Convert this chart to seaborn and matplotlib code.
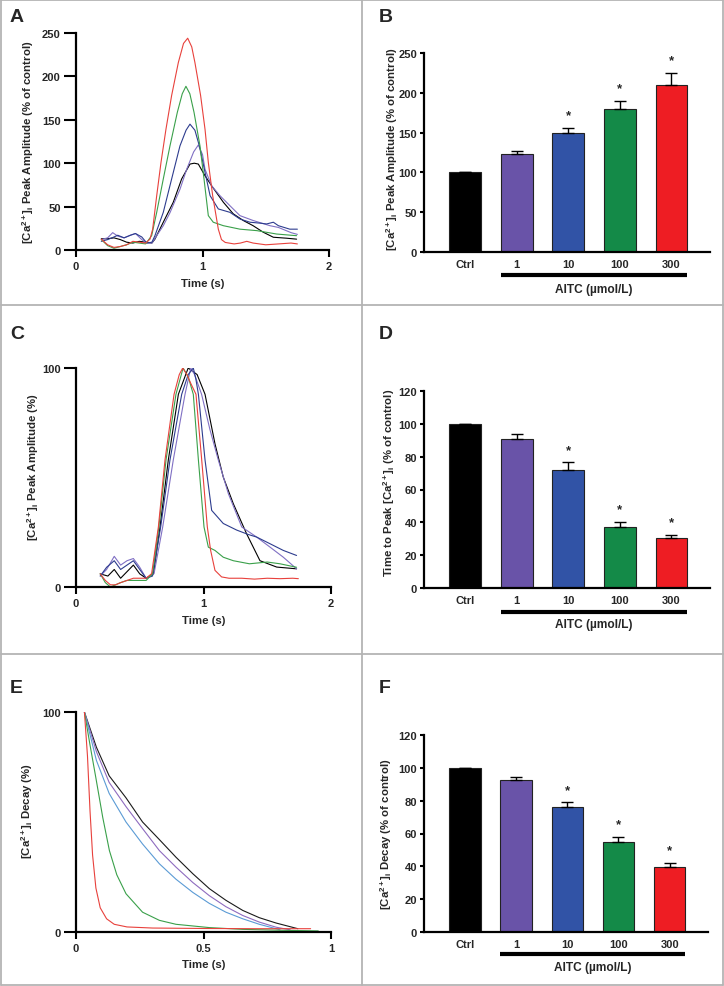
import matplotlib
matplotlib.use("Agg")
import matplotlib.pyplot as plt
import matplotlib.transforms as mtransforms
from matplotlib.lines import Line2D
import seaborn as sns
import pandas as pd

# ---------------- data ----------------
groups = ["Ctrl", "1", "10", "100", "300"]

# Panel A: raw transients (% of control)
a_ctrl_t = [0.20,0.25,0.30,0.35,0.40,0.45,0.50,0.55,0.60,0.624,0.69,0.769,0.835,0.901,0.935,0.967,1.02,1.072,1.165,1.243,1.322,1.40,1.48,1.56,1.664,1.744]
a_ctrl_v = [13,13,14,12,9,8,10,9,8,12.5,32,55,81.8,99,100,99,85.5,74,55,41.7,34,28,20.5,14.7,13.6,12.5]
a_1_t = [0.20,0.25,0.29,0.33,0.38,0.43,0.47,0.52,0.56,0.60,0.638,0.69,0.743,0.822,0.875,0.93,0.967,1.0,1.02,1.072,1.138,1.217,1.296,1.40,1.533,1.60,1.70,1.75]
a_1_v = [12,14,20,16,14,17,19,12,8,8,16.5,28,43,70,93,113,121,110,93,74,62.6,51,39.6,34,28,26,20,18]
a_10_t = [0.20,0.25,0.30,0.33,0.38,0.43,0.47,0.52,0.56,0.60,0.624,0.69,0.756,0.822,0.87,0.901,0.94,0.975,1.02,1.06,1.125,1.217,1.296,1.375,1.45,1.507,1.56,1.60,1.69,1.75]
a_10_v = [10,12,15,17,14,17,19,15,8,9,16.5,43.4,81.8,120,138,145,138,120,89.5,62.6,47.3,43.4,35.7,32,31,30,32,28,24,24]
a_100_t = [0.20,0.25,0.30,0.35,0.40,0.45,0.50,0.55,0.598,0.638,0.69,0.743,0.801,0.84,0.869,0.90,0.933,0.98,1.012,1.046,1.085,1.165,1.296,1.43,1.586,1.70,1.744]
a_100_v = [12,5,2,4,6,9,8,7,16.5,43.4,81.8,120,158.6,180,188.6,180,158.6,120,81.8,39.6,32,28,24,22.3,18.4,17,16.5]
a_300_t = [0.20,0.25,0.30,0.35,0.40,0.45,0.50,0.55,0.585,0.606,0.638,0.672,0.711,0.756,0.809,0.850,0.883,0.915,0.94,0.985,1.02,1.046,1.08,1.125,1.15,1.18,1.25,1.30,1.35,1.40,1.50,1.60,1.70,1.75]
a_300_v = [12.5,6,3,4,6,10,9,8,12.5,24,62.6,101,139,178,216,238,244,234,216,178,139,101,63,24,12,8.7,7,8,10,8,6,7,8,7]

# Panel C: normalised transients (%)
c_ctrl_t = [0.19,0.25,0.30,0.35,0.40,0.45,0.50,0.55,0.607,0.659,0.724,0.803,0.88,0.95,1.012,1.09,1.155,1.234,1.338,1.443,1.574,1.73]
c_ctrl_v = [6,5,8,4,7,10,6,4,6,27.4,58,88,100,97,88,65.4,50.2,38,24.3,12,9.1,8.3]
c_1_t = [0.19,0.24,0.30,0.35,0.40,0.45,0.50,0.55,0.612,0.68,0.763,0.855,0.90,0.93,0.985,1.05,1.116,1.195,1.30,1.417,1.522,1.626,1.73]
c_1_v = [5,8,14,10,12,13,9,4,6.1,27.4,58,88,100,97,88,72,58,42.6,27.4,22.8,18.2,13.6,8.3]
c_10_t = [0.19,0.24,0.30,0.35,0.40,0.45,0.50,0.55,0.60,0.664,0.737,0.829,0.88,0.92,0.94,0.96,1.012,1.064,1.155,1.26,1.35,1.417,1.52,1.626,1.73]
c_10_v = [5,9,12,8,10,12,8,4,5,27.4,58,88,97,100,95,88,58,35,29,26,24,22.8,19.8,16.7,14.4]
c_100_t = [0.19,0.23,0.27,0.31,0.35,0.40,0.45,0.50,0.55,0.60,0.65,0.706,0.784,0.84,0.88,0.92,0.96,1.004,1.038,1.09,1.155,1.234,1.36,1.50,1.60,1.73]
c_100_v = [6,2,0,1,2,3,3,3,3,6,27.4,58,88,100,96,88,58,27.4,18.2,16.7,13.6,12,10.6,11.4,10.6,9]
c_300_t = [0.19,0.23,0.27,0.31,0.35,0.40,0.45,0.50,0.55,0.593,0.646,0.698,0.769,0.81,0.837,0.87,0.90,0.941,0.986,1.03,1.056,1.09,1.142,1.20,1.30,1.40,1.50,1.60,1.70,1.744]
c_300_v = [6,3,1,1,2,3,4,4,4,6.1,27.4,58,88,97,100,97,93,88,58,27.4,16.7,7.6,4.6,4,4,3.6,4,3.8,4,3.8]

# Panel E: decay (%)
e_ctrl_t = [0.033,0.08,0.13,0.196,0.261,0.327,0.392,0.458,0.523,0.588,0.654,0.719,0.784,0.87]
e_ctrl_v = [100,84,71,61,50,42,34,26.5,19.7,14.4,9.8,6.5,4.1,1.5]
e_1_t = [0.033,0.08,0.13,0.196,0.261,0.327,0.392,0.458,0.523,0.588,0.654,0.719,0.784,0.84]
e_1_v = [100,82,68,57,47,37,29.5,22.5,16.5,11.5,7.5,4.5,2.2,1]
e_10_t = [0.033,0.08,0.13,0.196,0.261,0.327,0.392,0.458,0.523,0.588,0.654,0.719,0.784,0.80]
e_10_v = [100,78,63,50,40,31,24,18,13,9,6,3.5,1.5,1]
e_100_t = [0.033,0.055,0.078,0.105,0.131,0.16,0.196,0.261,0.327,0.392,0.523,0.654,0.80,0.95]
e_100_v = [100,85,70,52,37,26,17.4,9,5.3,3.5,2,1.2,0.8,0.5]
e_300_t = [0.033,0.045,0.055,0.065,0.078,0.095,0.12,0.15,0.20,0.30,0.50,0.70,0.92]
e_300_v = [100,80,55,35,20,11,6,3.5,2.3,1.8,1.6,1.5,1.5]

# Bar panels (mean, SEM, significance)
b_mean = [100, 123, 149, 180, 210]
b_err = [0, 4, 7, 10, 15]
b_sig = [False, False, True, True, True]
d_mean = [100, 91, 72, 37, 30.5]
d_err = [0, 3, 4.5, 3.5, 1.8]
d_sig = [False, False, True, True, True]
f_mean = [100, 92.5, 76, 54.8, 39.5]
f_err = [0, 1.8, 3, 3, 2.7]
f_sig = [False, False, True, True, True]

bar_colors = ["#000000", "#6953a8", "#3153a6", "#148a48", "#ee1d23"]
line_colors = ["#000000", "#8070c4", "#2d3c8e", "#3aa04a", "#e8413c"]
e_line_colors = ["#1a1a1a", "#8e6bbf", "#5b9bd5", "#3aa04a", "#e8413c"]

# ---------------- style ----------------
sns.set_theme(style="ticks")
plt.rcParams["font.family"] = ["Liberation Sans", "DejaVu Sans"]
plt.rcParams["mathtext.fontset"] = "custom"
plt.rcParams["mathtext.rm"] = "Liberation Sans:bold"
plt.rcParams["mathtext.it"] = "Liberation Sans:bold"
plt.rcParams["mathtext.bf"] = "Liberation Sans:bold"
plt.rcParams["mathtext.default"] = "rm"

W, H = 724, 987
fig = plt.figure(figsize=(W / 100, H / 100), dpi=100)
fig.patch.set_facecolor("white")


def add_ax(l, r, t, b):
    return fig.add_axes([l / W, 1 - b / H, (r - l) / W, (b - t) / H])


def style(ax):
    sns.despine(ax=ax)
    for s in ["left", "bottom"]:
        ax.spines[s].set_linewidth(1.6)
        ax.spines[s].set_color("black")
    ax.set_facecolor("white")


CA = r"[Ca$^{2+}$]$_{i}$"
TS = 8
LS = 8.2


def line_panel(ax, series, colors, xticks, xlabels, yticks, ylim, ylabel, ylab_pos, xlab_y):
    rows = []
    for g, (t, v) in zip(groups, series):
        for tt, vv in zip(t, v):
            rows.append((g, tt, vv))
    df = pd.DataFrame(rows, columns=["grp", "t", "v"])
    sns.lineplot(data=df, x="t", y="v", hue="grp", hue_order=groups,
                 palette=dict(zip(groups, colors)), estimator=None, sort=False,
                 legend=False, linewidth=0.8, ax=ax)
    style(ax)
    ax.set_xlim(xticks[0], xticks[-1])
    ax.set_ylim(*ylim)
    ax.set_xticks(xticks, labels=xlabels, fontweight="bold", fontsize=TS)
    ax.set_yticks(yticks, labels=[str(y) for y in yticks], fontweight="bold", fontsize=TS)
    ax.tick_params(axis="y", length=9, width=1.5, pad=2, color="black")
    ax.tick_params(axis="x", length=5, width=1.5, pad=3, color="black")
    ax.set_xlabel("Time (s)", fontweight="bold", fontsize=LS)
    ax.xaxis.set_label_coords(0.5, xlab_y)
    ax.set_ylabel(ylabel, fontweight="bold", fontsize=LS)
    ax.yaxis.set_label_coords(*ylab_pos)


def bar_panel(ax, mean, err, sig, yticks, ylabel, ylab_pos, aitc_y, aitc_lab_y, star_off):
    df = pd.DataFrame({"grp": groups, "v": mean})
    sns.barplot(data=df, x="grp", y="v", hue="grp", order=groups, hue_order=groups,
                palette=dict(zip(groups, bar_colors)), legend=False, width=0.615,
                edgecolor="#222222", linewidth=0.8, saturation=1, ax=ax)
    ax.errorbar(range(len(groups)), mean, yerr=[[0] * len(err), err], fmt="none",
                ecolor="black", elinewidth=1.0, capsize=4, capthick=1.0, zorder=1)
    style(ax)
    ax.set_xlim(-0.80, 4.75)
    ax.set_ylim(yticks[0], yticks[-1])
    ax.set_yticks(yticks, labels=[str(y) for y in yticks], fontweight="bold", fontsize=TS)
    ax.set_xticks(range(len(groups)), labels=groups, fontweight="bold", fontsize=TS)
    ax.tick_params(axis="y", length=3, width=1.5, pad=2, color="black")
    ax.tick_params(axis="x", length=0, pad=5)
    ax.set_xlabel("")
    ax.set_ylabel(ylabel, fontweight="bold", fontsize=LS)
    ax.yaxis.set_label_coords(*ylab_pos)
    for i, (m, e, s) in enumerate(zip(mean, err, sig)):
        if s:
            ax.annotate("*", (i, m + e), xytext=(0, star_off), textcoords="offset points",
                        ha="center", va="center", fontsize=9.5, fontweight="bold")
    tr = mtransforms.blended_transform_factory(ax.transData, ax.transAxes)
    ax.plot([1 - 0.3075, 4 + 0.3075], [aitc_y, aitc_y], transform=tr, color="black",
            lw=3, clip_on=False, solid_capstyle="butt")
    ax.text(2.5, aitc_lab_y, "AITC (\u00b5mol/L)", transform=tr, ha="center", va="center",
            fontweight="bold", fontsize=8.6)


# Panel A
axA = add_ax(76, 329, 34, 251)
line_panel(axA,
           [(a_ctrl_t, a_ctrl_v), (a_1_t, a_1_v), (a_10_t, a_10_v), (a_100_t, a_100_v), (a_300_t, a_300_v)],
           line_colors, [0, 1, 2], ["0", "1", "2"], [0, 50, 100, 150, 200, 250], (0, 250),
           CA + " Peak Amplitude (% of control)", (-0.16, 0.50), -0.13)

# Panel B
axB = add_ax(424, 710, 54, 253)
bar_panel(axB, b_mean, b_err, b_sig, [0, 50, 100, 150, 200, 250],
          CA + " Peak Amplitude (% of control)", (-0.084, 0.52), -0.116, -0.186, 9)

# Panel C
axC = add_ax(76, 331, 369, 588)
line_panel(axC,
           [(c_ctrl_t, c_ctrl_v), (c_1_t, c_1_v), (c_10_t, c_10_v), (c_100_t, c_100_v), (c_300_t, c_300_v)],
           line_colors, [0, 1, 2], ["0", "1", "2"], [0, 100], (0, 100),
           CA + " Peak Amplitude (%)", (-0.137, 0.55), -0.13)

# Panel D
axD = add_ax(424, 710, 392, 589)
bar_panel(axD, d_mean, d_err, d_sig, [0, 20, 40, 60, 80, 100, 120],
          "Time to Peak " + CA + " (% of control)", (-0.095, 0.54), -0.122, -0.183, 9)

# Panel E
axE = add_ax(76, 331, 713, 933)
line_panel(axE,
           [(e_ctrl_t, e_ctrl_v), (e_1_t, e_1_v), (e_10_t, e_10_v), (e_100_t, e_100_v), (e_300_t, e_300_v)],
           e_line_colors, [0, 0.5, 1], ["0", "0.5", "1"], [0, 100], (0, 100),
           CA + " Decay (%)", (-0.16, 0.555), -0.123)

# Panel F
axF = add_ax(424, 708, 736, 933)
bar_panel(axF, f_mean, f_err, f_sig, [0, 20, 40, 60, 80, 100, 120],
          CA + " Decay (% of control)", (-0.105, 0.50), -0.112, -0.178, 9)

# Panel letters
for lab, x, y in [("A", 10, 22), ("B", 379, 22), ("C", 10, 339), ("D", 379, 339),
                  ("E", 10, 693), ("F", 379, 693)]:
    fig.text(x / W, 1 - y / H, lab, fontsize=14, fontweight="bold", va="baseline", ha="left")

# Panel frame lines
gc = "#b4b4b4"
for (x0, y0, x1, y1) in [(1, 1, W - 1, 1), (1, H - 1, W - 1, H - 1), (1, 1, 1, H - 1),
                         (W - 1, 1, W - 1, H - 1), (362, 1, 362, H - 1),
                         (1, 306, W - 1, 306), (1, 655, W - 1, 655)]:
    fig.add_artist(Line2D([x0 / W, x1 / W], [1 - y0 / H, 1 - y1 / H], color=gc, lw=1.3,
                          transform=fig.transFigure))

fig.savefig("out.png", dpi=100, facecolor="white")
